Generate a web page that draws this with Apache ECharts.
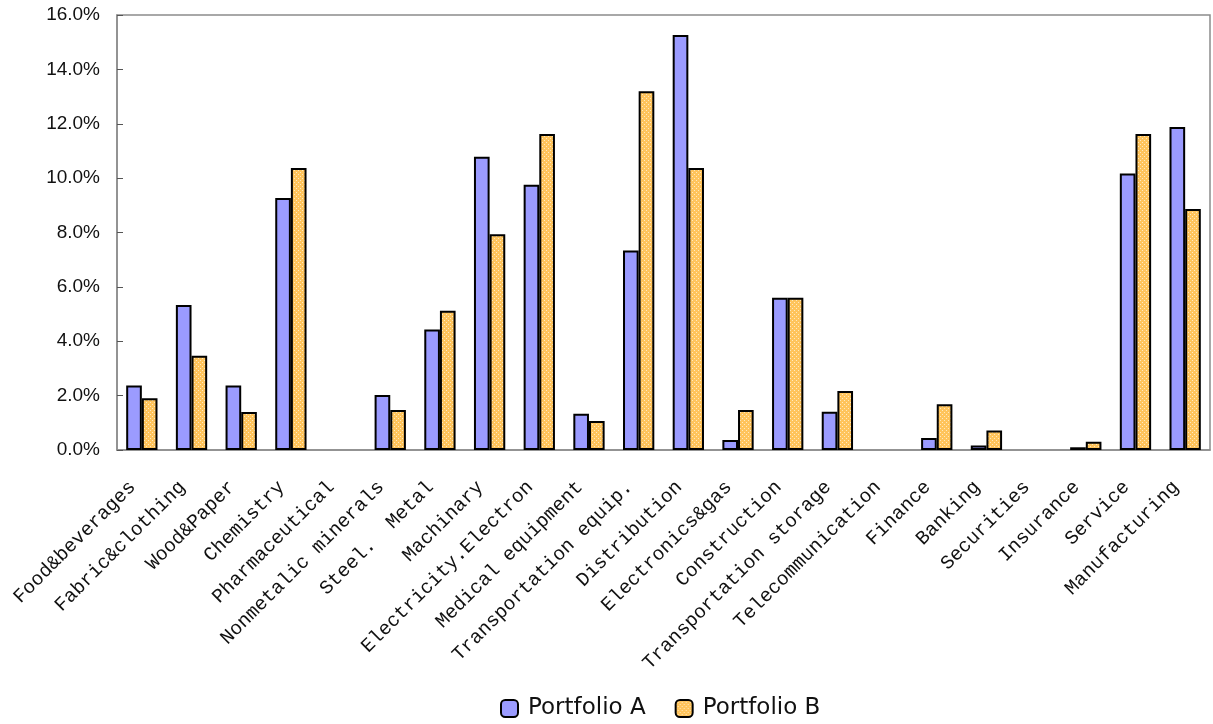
<!DOCTYPE html>
<html lang="en">
<head>
    <meta charset="UTF-8">
    <title>Portfolio sector weights</title>
    <style>
        html, body {
            margin: 0;
            height: 100%;
            width: 100%;
            background: #fff;
        }
        .myEcharts {
            width: 1213px;
            height: 724px;
        }
    </style>
</head>
<body>
    <div id="main" class="myEcharts"></div>
    <script src="https://cdn.jsdelivr.net/npm/echarts@6/dist/echarts.min.js"></script>
    <script>
        // data (percent)
        var sectors = ['Food&beverages', 'Fabric&clothing', 'Wood&Paper', 'Chemistry', 'Pharmaceutical',
            'Nonmetalic minerals', 'Steel.  Metal', 'Machinary', 'Electricity.Electron', 'Medical equipment',
            'Transportation equip.', 'Distribution', 'Electronics&gas', 'Construction', 'Transportation storage',
            'Telecommunication', 'Finance', 'Banking', 'Securities', 'Insurance', 'Service', 'Manufacturing'];
        var portfolioA = [2.37, 5.33, 2.37, 9.27, 0, 2.02, 4.43, 10.79, 9.76, 1.33,
            7.34, 15.26, 0.37, 5.6, 1.41, 0, 0.44, 0.17, 0, 0.1, 10.17, 11.88];
        var portfolioB = [1.9, 3.47, 1.4, 10.37, 0, 1.47, 5.12, 7.94, 11.62, 1.07,
            13.2, 10.37, 1.47, 5.6, 2.17, 0, 1.68, 0.72, 0, 0.3, 11.62, 8.86];
        var yTicks = [0, 2, 4, 6, 8, 10, 12, 14, 16];

        // empty sectors get no bar at all (no outline either)
        function noZero(arr) {
            return arr.map(function (v) { return v === 0 ? '-' : v; });
        }

        // dotted orange fill for portfolio B
        function dotPattern() {
            var c = document.createElement('canvas');
            c.width = 4;
            c.height = 4;
            var ctx = c.getContext('2d');
            ctx.fillStyle = '#FFC45C';
            ctx.fillRect(0, 0, 4, 4);
            ctx.fillStyle = '#FFE9C0';
            ctx.fillRect(0, 0, 1, 1);
            ctx.fillRect(2, 2, 1, 1);
            return c;
        }

        var myCharts = echarts.init(document.getElementById('main'));
        var option = {
            animation: false,
            backgroundColor: '#fff',
            grid: {
                left: 117,
                right: 3,
                top: 15,
                bottom: 274,
                show: true,
                borderColor: '#8c8c8c',
                borderWidth: 1.5
            },
            legend: {
                left: 500,
                top: 697,
                padding: 0,
                itemWidth: 17,
                itemHeight: 17,
                itemGap: 29,
                textStyle: {
                    fontSize: 23,
                    color: '#111',
                    fontFamily: '"DejaVu Sans", sans-serif',
                    padding: [0, 0, 0, 5]
                },
                data: ['Portfolio A', 'Portfolio B']
            },
            xAxis: {
                type: 'category',
                data: sectors,
                axisLine: { lineStyle: { color: '#8c8c8c', width: 1.5 } },
                axisTick: { inside: true, length: 6, lineStyle: { color: '#555' } },
                axisLabel: {
                    rotate: 45,
                    interval: 0,
                    margin: 25,
                    padding: [0, 13, 0, 0],
                    fontSize: 19.5,
                    color: '#111',
                    fontFamily: '"Liberation Mono", monospace'
                },
                splitLine: { show: false }
            },
            yAxis: {
                type: 'value',
                min: yTicks[0],
                max: yTicks[yTicks.length - 1],
                interval: 2,
                axisLine: { show: true, lineStyle: { color: '#8c8c8c', width: 1.5 } },
                axisTick: { show: true, inside: true, length: 6, lineStyle: { color: '#555' } },
                axisLabel: {
                    margin: 17,
                    fontSize: 19,
                    color: '#111',
                    fontFamily: '"Liberation Sans", sans-serif',
                    formatter: function (v) { return v.toFixed(1) + '%'; }
                },
                splitLine: { show: false }
            },
            series: [{
                name: 'Portfolio A',
                type: 'bar',
                data: noZero(portfolioA),
                barGap: '0%',
                barCategoryGap: '37%',
                itemStyle: { color: '#9B9BFF', borderColor: '#000', borderWidth: 2 }
            }, {
                name: 'Portfolio B',
                type: 'bar',
                data: noZero(portfolioB),
                itemStyle: {
                    color: { image: dotPattern(), repeat: 'repeat' },
                    borderColor: '#000',
                    borderWidth: 2
                }
            }]
        };
        myCharts.setOption(option);
    </script>
</body>
</html>
